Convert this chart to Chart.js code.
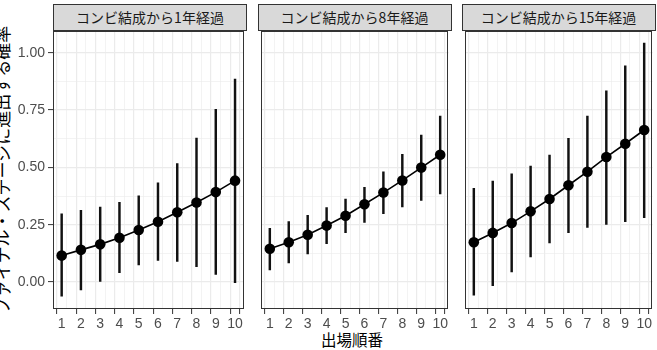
<!DOCTYPE html>
<html>
<head>
<meta charset="utf-8">
<script src="https://cdn.jsdelivr.net/npm/chart.js@4.4.1/dist/chart.umd.min.js"></script>
<style>
  html, body { margin: 0; padding: 0; background: #fff; }
  body { width: 657px; height: 350px; position: relative; overflow: hidden; font-family: "Noto Sans CJK JP", sans-serif; }
  canvas { position: absolute; top: 0; }
  .strip {
    position: absolute; top: 4px; height: 27px; box-sizing: border-box;
    background: #D9D9D9; border: 1px solid #333; color: #1A1A1A;
    font-size: 14px; line-height: 25px; text-align: center;
  }
  .ytitle {
    position: absolute; left: 1px; top: 170px; width: 340px; text-align: center;
    font-size: 17px; color: #000; white-space: nowrap;
    transform: translate(-50%, -50%) rotate(-90deg);
  }
  .xtitle {
    position: absolute; left: 352px; top: 339px; font-size: 15.5px; color: #000;
    transform: translate(-50%, -50%); white-space: nowrap;
  }
</style>
</head>
<body>
<div class="ytitle">ファイナル・ステージに進出する確率</div>
<div class="xtitle">出場順番</div>
<script>
// Facet titles
const panelTitles = ['コンビ結成から1年経過', 'コンビ結成から8年経過', 'コンビ結成から15年経過'];

// x: 出場順番
const order = [1, 2, 3, 4, 5, 6, 7, 8, 9, 10];

// コンビ結成から1年経過
const p1Mean = [0.115, 0.140, 0.164, 0.193, 0.227, 0.263, 0.304, 0.347, 0.392, 0.442];
const p1Low  = [-0.062, -0.035, 0.000, 0.041, 0.074, 0.094, 0.090, 0.067, 0.033, -0.003];
const p1High = [0.297, 0.312, 0.327, 0.347, 0.376, 0.433, 0.517, 0.628, 0.753, 0.885];

// コンビ結成から8年経過
const p2Mean = [0.145, 0.173, 0.206, 0.246, 0.289, 0.339, 0.390, 0.443, 0.499, 0.555];
const p2Low  = [0.052, 0.083, 0.122, 0.167, 0.215, 0.260, 0.298, 0.327, 0.356, 0.384];
const p2High = [0.234, 0.263, 0.291, 0.324, 0.362, 0.413, 0.480, 0.557, 0.641, 0.724];

// コンビ結成から15年経過
const p3Mean = [0.173, 0.214, 0.257, 0.308, 0.362, 0.422, 0.481, 0.545, 0.603, 0.663];
const p3Low  = [-0.058, -0.016, 0.044, 0.109, 0.170, 0.215, 0.238, 0.251, 0.263, 0.280];
const p3High = [0.408, 0.440, 0.472, 0.506, 0.554, 0.627, 0.724, 0.834, 0.943, 1.042];

// axis breaks
const xBreaks = [1, 2, 3, 4, 5, 6, 7, 8, 9, 10];
const xMinor = [1.5, 2.5, 3.5, 4.5, 5.5, 6.5, 7.5, 8.5, 9.5];
const yBreaks = [0, 0.25, 0.5, 0.75, 1];
const yLabels = ['0.00', '0.25', '0.50', '0.75', '1.00'];
const yMinor = [0.125, 0.375, 0.625, 0.875];

// layout of the three panels
const panelLeft = [53, 257.5, 461.5];
const panelWidth = 194;
const plotTop = 31;
const plotBottom = 309;
const H = 350;

const tickFont = { family: '"Liberation Sans", Arial, sans-serif', size: 14 };

const panelBorder = {
    id: 'panelBorder',
    afterDraw(chart) {
        const a = chart.chartArea;
        const ctx = chart.ctx;
        ctx.save();
        ctx.strokeStyle = '#333333';
        ctx.lineWidth = 1;
        ctx.strokeRect(Math.round(a.left) + 0.5, Math.round(a.top) + 0.5,
            Math.round(a.right - a.left) - 1, Math.round(a.bottom - a.top) - 1);
        ctx.restore();
    }
};

function isMajor(list, c) {
    if (!c || !c.tick) return true;
    return list.some(b => Math.abs(b - c.tick.value) < 1e-6);
}

function makePanel(i, mean, low, high) {
    const first = i === 0;
    const canvasLeft = first ? 0 : panelLeft[i] - 2;
    const padLeft = first ? 0 : 2;
    const width = Math.round((panelLeft[i] + panelWidth + 2) - canvasLeft);

    const canvas = document.createElement('canvas');
    canvas.width = width;
    canvas.height = H;
    canvas.style.left = canvasLeft + 'px';
    document.body.appendChild(canvas);

    const strip = document.createElement('div');
    strip.className = 'strip';
    strip.style.left = panelLeft[i] + 'px';
    strip.style.width = panelWidth + 'px';
    strip.textContent = panelTitles[i];
    document.body.appendChild(strip);

    new Chart(canvas, {
        type: 'line',
        data: {
            datasets: [
                {
                    type: 'line',
                    data: order.map((x, k) => ({ x: x, y: mean[k] })),
                    borderColor: '#000',
                    borderWidth: 1.6,
                    pointRadius: 5.3,
                    pointBackgroundColor: '#000',
                    pointBorderWidth: 0,
                    tension: 0
                },
                {
                    type: 'bar',
                    data: order.map((x, k) => ({ x: x, y: [low[k], high[k]] })),
                    backgroundColor: '#111',
                    borderWidth: 0,
                    barThickness: 1.8
                }
            ]
        },
        options: {
            responsive: false,
            animation: false,
            layout: { padding: { top: plotTop, left: padLeft, right: 2, bottom: 0 } },
            plugins: { legend: { display: false }, tooltip: { enabled: false } },
            scales: {
                x: {
                    type: 'linear',
                    min: 0.55,
                    max: 10.45,
                    offset: false,
                    afterBuildTicks: s => { s.ticks = xBreaks.concat(xMinor).sort((a, b) => a - b).map(v => ({ value: v })); },
                    afterFit: s => { s.height = H - plotBottom; },
                    border: { display: false },
                    grid: {
                        color: '#EBEBEB',
                        lineWidth: c => isMajor(xBreaks, c) ? 1.2 : 0.6,
                        tickColor: c => isMajor(xBreaks, c) ? '#333333' : 'rgba(0,0,0,0)',
                        tickLength: 5,
                        tickWidth: 1
                    },
                    ticks: {
                        autoSkip: false,
                        maxRotation: 0,
                        padding: 2,
                        color: '#4D4D4D',
                        font: tickFont,
                        callback: v => xBreaks.includes(v) ? String(v) : ''
                    }
                },
                y: {
                    type: 'linear',
                    min: -0.118,
                    max: 1.095,
                    afterBuildTicks: s => { s.ticks = yBreaks.concat(yMinor).sort((a, b) => a - b).map(v => ({ value: v })); },
                    afterFit: s => { s.width = first ? panelLeft[0] : 0; },
                    border: { display: false },
                    grid: {
                        color: '#EBEBEB',
                        lineWidth: c => isMajor(yBreaks, c) ? 1.2 : 0.6,
                        tickColor: c => isMajor(yBreaks, c) ? '#333333' : 'rgba(0,0,0,0)',
                        drawTicks: first,
                        tickLength: 5,
                        tickWidth: 1
                    },
                    ticks: {
                        display: first,
                        autoSkip: false,
                        padding: 3,
                        color: '#4D4D4D',
                        font: tickFont,
                        callback: v => {
                            const k = yBreaks.findIndex(b => Math.abs(b - v) < 1e-6);
                            return k >= 0 ? yLabels[k] : '';
                        }
                    }
                }
            }
        },
        plugins: [panelBorder]
    });
}

makePanel(0, p1Mean, p1Low, p1High);
makePanel(1, p2Mean, p2Low, p2High);
makePanel(2, p3Mean, p3Low, p3High);
</script>
</body>
</html>
